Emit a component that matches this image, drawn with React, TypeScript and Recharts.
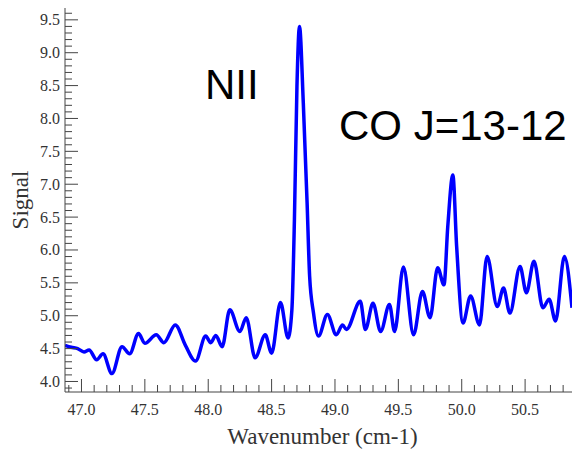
import { LineChart, Line, XAxis, YAxis } from "recharts"

// spectrum: wavenumber (cm-1) and signal
const wavenumber = [
  46.87, 46.92, 46.97, 47.02, 47.06, 47.12, 47.17, 47.24, 47.32, 47.38,
  47.45, 47.5, 47.59, 47.65, 47.74, 47.82, 47.9, 47.98, 48.02, 48.06,
  48.11, 48.17, 48.25, 48.3, 48.37, 48.45, 48.5, 48.57, 48.63, 48.66,
  48.68, 48.7, 48.72, 48.75, 48.78, 48.8, 48.83, 48.87, 48.94, 49.01,
  49.06, 49.09, 49.2, 49.24, 49.3, 49.36, 49.43, 49.47, 49.54, 49.62,
  49.69, 49.75, 49.81, 49.86, 49.89, 49.93, 49.96, 50.01, 50.07, 50.14,
  50.2, 50.28, 50.33, 50.38, 50.46, 50.51, 50.57, 50.64, 50.69, 50.74,
  50.81, 50.87,
]
const signal = [
  4.55, 4.52, 4.5, 4.45, 4.48, 4.33, 4.42, 4.12, 4.53, 4.42,
  4.73, 4.58, 4.71, 4.59, 4.86, 4.55, 4.31, 4.69, 4.59, 4.7,
  4.53, 5.09, 4.76, 4.97, 4.36, 4.71, 4.43, 5.2, 4.66, 5.09,
  6.46, 8.49, 9.4, 8.24, 6.72, 5.6, 5.05, 4.69, 5.02, 4.71,
  4.86, 4.79, 5.22, 4.79, 5.19, 4.76, 5.17, 4.76, 5.74, 4.71,
  5.37, 4.97, 5.73, 5.47, 6.36, 7.14, 6.05, 4.89, 5.3, 4.86,
  5.9, 5.14, 5.42, 5.04, 5.75, 5.35, 5.83, 5.12, 5.25, 4.92,
  5.9, 5.12,
]

const xDomain = [46.87, 50.87]
const yDomain = [3.84, 9.68]
// tick range (every 0.1, labelled every 0.5)
const xTickRange = [46.9, 50.8]
const yTickRange = [3.9, 9.6]

const labels = [
  { text: "NII", x: 205, y: 99 },
  { text: "CO J=13-12", x: 339, y: 140 },
]

const data = wavenumber.map((wn, i) => ({ wn, signal: signal[i] }))

const steps = (r: number[]) => {
  const out: number[] = []
  for (let k = Math.round(r[0] * 10); k <= Math.round(r[1] * 10); k++) out.push(k / 10)
  return out
}
const xTicks = steps(xTickRange)
const yTicks = steps(yTickRange)

const AXIS = "#444"
const SERIF = "'Liberation Serif', 'Times New Roman', serif"
const SANS = "'Liberation Sans', Arial, sans-serif"
const isMajor = (v: number) => Math.round(v * 10) % 5 === 0
const len = (v: number) => (isMajor(v) ? 13 : 7)

function BottomTick({ x, y, payload }: any) {
  const v = payload.value
  return (
    <g>
      <line x1={x} x2={x} y1={y} y2={y - len(v)} stroke={AXIS} />
      {isMajor(v) && (
        <text x={x} y={y + 23} textAnchor="middle" fontSize={16} fontFamily={SERIF} fill="#333">
          {v.toFixed(1)}
        </text>
      )}
    </g>
  )
}

function TopTick({ x, y, payload }: any) {
  return <line x1={x} x2={x} y1={y} y2={y + len(payload.value)} stroke={AXIS} />
}

function LeftTick({ x, y, payload }: any) {
  const v = payload.value
  return (
    <g>
      <line x1={x} x2={x + len(v)} y1={y} y2={y} stroke={AXIS} />
      {isMajor(v) && (
        <text x={x - 5} y={y + 5.5} textAnchor="end" fontSize={16} fontFamily={SERIF} fill="#333">
          {v.toFixed(1)}
        </text>
      )}
    </g>
  )
}

function RightTick({ x, y, payload }: any) {
  return <line x1={x} x2={x - len(payload.value)} y1={y} y2={y} stroke={AXIS} />
}

export default function App() {
  return (
    <div style={{ position: "absolute", left: 0, top: 0, width: 573, height: 450, background: "#fff" }}>
      <LineChart width={573} height={450} data={data} margin={{ top: 8, right: 1, bottom: 0, left: 0 }}>
        <XAxis
          dataKey="wn"
          type="number"
          domain={xDomain}
          allowDataOverflow
          ticks={xTicks}
          interval={0}
          tick={BottomTick}
          tickLine={false}
          tickSize={0}
          tickMargin={0}
          height={58}
          stroke={AXIS}
          label={{
            value: "Wavenumber (cm-1)",
            position: "insideBottom",
            offset: 6,
            dx: 4,
            style: { fontSize: 23, fontFamily: SERIF, fill: "#333" },
          }}
        />
        <XAxis
          xAxisId="top"
          orientation="top"
          dataKey="wn"
          type="number"
          domain={xDomain}
          allowDataOverflow
          ticks={xTicks}
          interval={0}
          tick={TopTick}
          tickLine={false}
          tickSize={0}
          tickMargin={0}
          height={0}
          stroke={AXIS}
        />
        <YAxis
          type="number"
          domain={yDomain}
          allowDataOverflow
          ticks={yTicks}
          interval={0}
          tick={LeftTick}
          tickLine={false}
          tickSize={0}
          tickMargin={0}
          width={65}
          stroke={AXIS}
          label={{
            value: "Signal",
            angle: -90,
            position: "insideLeft",
            offset: 20,
            style: { textAnchor: "middle", fontSize: 23, fontFamily: SERIF, fill: "#333" },
          }}
        />
        <YAxis
          yAxisId="right"
          orientation="right"
          type="number"
          domain={yDomain}
          allowDataOverflow
          ticks={yTicks}
          interval={0}
          tick={RightTick}
          tickLine={false}
          tickSize={0}
          tickMargin={0}
          width={0}
          stroke={AXIS}
        />
        <Line
          dataKey="signal"
          type="monotone"
          stroke="#0000ff"
          strokeWidth={3.5}
          dot={false}
          isAnimationActive={false}
        />
      </LineChart>
      <svg width={573} height={450} style={{ position: "absolute", left: 0, top: 0, pointerEvents: "none" }}>
        {labels.map((l) => (
          <text key={l.text} x={l.x} y={l.y} fontSize={42} fontFamily={SANS} fill="#000">
            {l.text}
          </text>
        ))}
      </svg>
    </div>
  )
}
